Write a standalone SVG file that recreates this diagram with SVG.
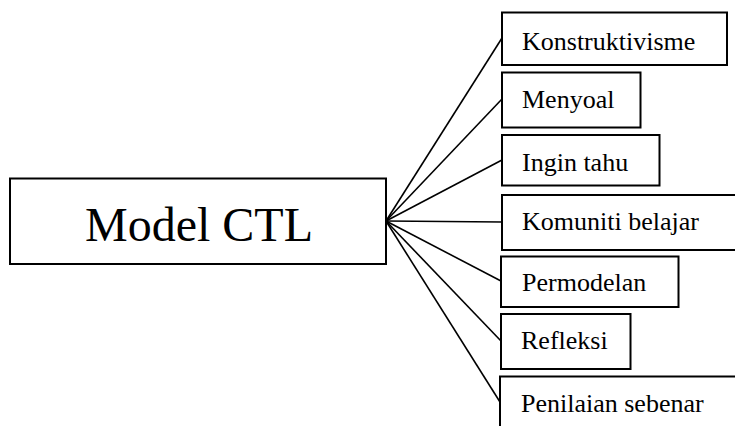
<svg xmlns="http://www.w3.org/2000/svg" width="735" height="426" viewBox="0 0 735 426">
<style>
rect{fill:#fff;stroke:#000;stroke-width:2}
text{font-family:"Liberation Serif","Times New Roman",serif;fill:#000}
.s{font-size:26px}
.b{font-size:48px}
#connectors line{stroke:#000;stroke-width:1.6}
</style>
<rect x="0" y="0" width="735" height="426" style="stroke:none"/>
<g id="connectors">
<line x1="386" y1="221" x2="502" y2="38"/>
<line x1="386" y1="221" x2="502" y2="99"/>
<line x1="386" y1="221" x2="502" y2="160"/>
<line x1="386" y1="221" x2="502" y2="222"/>
<line x1="386" y1="221" x2="501" y2="281"/>
<line x1="386" y1="221" x2="501" y2="341"/>
<line x1="386" y1="221" x2="500" y2="402"/>
</g>
<g id="main"><rect x="10" y="178.5" width="376" height="85.5"/><text class="b" x="85" y="241">Model CTL</text></g>
<g id="n1"><rect x="502" y="12.5" width="225" height="52.5"/><text class="s" x="522" y="50">Konstruktivisme</text></g>
<g id="n2"><rect x="502" y="72.5" width="138.5" height="55"/><text class="s" x="522" y="108">Menyoal</text></g>
<g id="n3"><rect x="502" y="135" width="157.5" height="50.5"/><text class="s" x="522" y="171">Ingin tahu</text></g>
<g id="n4"><rect x="502" y="195" width="240" height="55"/><text class="s" x="522" y="230">Komuniti belajar</text></g>
<g id="n5"><rect x="501" y="256.5" width="177.5" height="50.5"/><text class="s" x="522" y="291">Permodelan</text></g>
<g id="n6"><rect x="501" y="314" width="129.5" height="55"/><text class="s" x="521" y="349">Refleksi</text></g>
<g id="n7"><rect x="500" y="376.5" width="240" height="60"/><text class="s" x="521" y="412">Penilaian sebenar</text></g>
</svg>
